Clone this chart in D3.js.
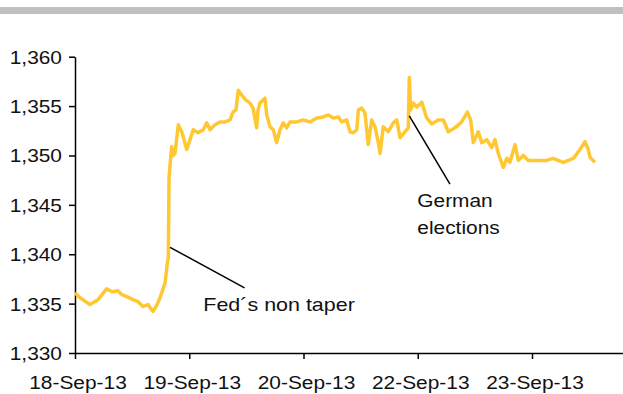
<!DOCTYPE html>
<html>
<head>
<meta charset="utf-8">
<script src="https://cdn.jsdelivr.net/npm/d3@7"></script>
<style>
  html, body { margin: 0; padding: 0; background: #fff; }
  svg { display: block; font-family: "Liberation Sans", Arial, sans-serif; }
</style>
</head>
<body>
<svg width="623" height="394"></svg>
<script>
// x in trading-day units (0 = 18-Sep-13), values EUR/USD
const dayPos = [
  0, 0.044, 0.131, 0.201, 0.277, 0.324, 0.376, 0.411, 0.453, 0.508, 0.551, 0.595, 0.639, 0.683,
  0.718, 0.744, 0.788, 0.808, 0.817, 0.823, 0.846, 0.858, 0.875, 0.904, 0.934, 0.954, 0.978,
  1.007, 1.035, 1.077, 1.123, 1.153, 1.182, 1.225, 1.269, 1.313, 1.357, 1.383, 1.409, 1.429,
  1.473, 1.497, 1.532, 1.558, 1.590, 1.602, 1.619, 1.663, 1.678, 1.707, 1.736, 1.765, 1.794,
  1.823, 1.853, 1.882, 1.940, 1.998, 2.057, 2.116, 2.173, 2.217, 2.261, 2.305, 2.334, 2.378,
  2.407, 2.436, 2.466, 2.480, 2.509, 2.538, 2.567, 2.597, 2.626, 2.655, 2.670, 2.698, 2.742,
  2.786, 2.816, 2.845, 2.888, 2.917, 2.926, 2.938, 2.961, 2.991, 3.035, 3.078, 3.122, 3.180,
  3.224, 3.267, 3.326, 3.385, 3.434, 3.463, 3.486, 3.530, 3.560, 3.604, 3.647, 3.676, 3.705,
  3.749, 3.779, 3.807, 3.851, 3.880, 3.924, 3.968, 4.041, 4.129, 4.184, 4.274, 4.362, 4.420,
  4.464, 4.493, 4.508, 4.551
];
const rate = [
  1.3361, 1.3356, 1.3349, 1.3354, 1.3365, 1.3362, 1.3363, 1.3359, 1.3357, 1.3354, 1.3352, 1.3347, 1.3349, 1.3342,
  1.3349, 1.3356, 1.3371, 1.3391, 1.3397, 1.3478, 1.3509, 1.3500, 1.3502, 1.3531, 1.3524, 1.3516, 1.3506,
  1.3516, 1.3526, 1.3523, 1.3526, 1.3533, 1.3526, 1.3531, 1.3534, 1.3534, 1.3536, 1.3544, 1.3546, 1.3566,
  1.3559, 1.3556, 1.3553, 1.3548, 1.3528, 1.3546, 1.3553, 1.3558, 1.3541, 1.3529, 1.3526, 1.3513, 1.3526,
  1.3533, 1.3528, 1.3534, 1.3534, 1.3536, 1.3534, 1.3538, 1.3539, 1.3541, 1.3538, 1.3539, 1.3534, 1.3536,
  1.3524, 1.3523, 1.3526, 1.3546, 1.3548, 1.3543, 1.3511, 1.3536, 1.3529, 1.3513, 1.3502, 1.3529, 1.3524,
  1.3533, 1.3536, 1.3518, 1.3524, 1.3528, 1.3579, 1.3546, 1.3553, 1.3549, 1.3554, 1.3538, 1.3532, 1.3536,
  1.3536, 1.3524, 1.3528, 1.3534, 1.3544, 1.3536, 1.3513, 1.3524, 1.3513, 1.3516, 1.3508, 1.3516, 1.3502,
  1.3488, 1.3497, 1.3493, 1.3511, 1.3495, 1.3500, 1.3495, 1.3495, 1.3495, 1.3497, 1.3493, 1.3497, 1.3506,
  1.3514, 1.3506, 1.3498, 1.3493
];

const dayLabels = ["18-Sep-13", "19-Sep-13", "20-Sep-13", "22-Sep-13", "23-Sep-13"];
const yTicks = [1.330, 1.335, 1.340, 1.345, 1.350, 1.355, 1.360];

// annotations: [pointDay, pointRate, endDay, endRate], text lines
const fedNote = { line: [0.832, 1.3407, 1.484, 1.3366], text: ["Fed´s non taper"], at: [1.123, 1.3343], size: 19 };
const germanNote = { line: [2.926, 1.3540, 3.282, 1.3471], text: ["German", "elections"], at: [2.996, 1.3448], size: 18.5 };

const STRETCH = 1.13; // text in the original is slightly wide
const FONT = 18.5;

const svg = d3.select("svg");

const margin = { left: 75, right: 0, top: 56.7, bottom: 41 };
const width = 623;
const height = 394;

const x = d3.scaleLinear().domain([0, 4.8]).range([margin.left, 623.4]);
const y = d3.scaleLinear().domain([1.330, 1.360]).range([height - margin.bottom, margin.top]);

// grey band at the top
svg.append("rect")
  .attr("x", 0).attr("y", 7)
  .attr("width", width).attr("height", 7)
  .attr("fill", "#c0c0c0");

// y axis
const yAxis = svg.append("g")
  .attr("transform", `translate(${margin.left},0)`)
  .call(d3.axisLeft(y).tickValues(yTicks).tickSize(6).tickSizeOuter(0)
    .tickFormat((d) => d3.format(".3f")(d).replace(".", ",")));

// x axis
const xAxis = svg.append("g")
  .attr("transform", `translate(0,${y(1.330)})`)
  .call(d3.axisBottom(x).tickValues(d3.range(dayLabels.length)).tickSize(6).tickSizeOuter(0)
    .tickFormat((d) => dayLabels[d]));

[yAxis, xAxis].forEach((g) => {
  g.select(".domain").attr("stroke", "#000").attr("stroke-width", 1.5);
  g.selectAll(".tick line").attr("stroke", "#000").attr("stroke-width", 1.5);
  g.selectAll(".tick text")
    .attr("font-size", FONT)
    .attr("font-family", "Liberation Sans, Arial, sans-serif")
    .attr("fill", "#111");
});

yAxis.selectAll(".tick text")
  .attr("x", 0)
  .attr("dy", "0.35em")
  .attr("transform", `translate(-13,0) scale(${STRETCH},1)`);

xAxis.selectAll(".tick text")
  .attr("y", 0)
  .attr("dy", null)
  .attr("transform", `translate(2.5,35.7) scale(${STRETCH},1)`);

// the series
const points = dayPos.map((d, i) => [d, rate[i]]);
svg.append("path")
  .datum(points)
  .attr("fill", "none")
  .attr("stroke", "#ffc832")
  .attr("stroke-width", 3.5)
  .attr("stroke-linejoin", "round")
  .attr("d", d3.line().x((d) => x(d[0])).y((d) => y(d[1])));

// annotations
[fedNote, germanNote].forEach((note) => {
  const [d1, r1, d2, r2] = note.line;
  svg.append("line")
    .attr("x1", x(d1)).attr("y1", y(r1))
    .attr("x2", x(d2)).attr("y2", y(r2))
    .attr("stroke", "#000")
    .attr("stroke-width", 1.5);

  note.text.forEach((t, i) => {
    svg.append("text")
      .attr("transform", `translate(${x(note.at[0])},${y(note.at[1]) + i * 27}) scale(${STRETCH},1)`)
      .attr("font-size", note.size)
      .attr("fill", "#111")
      .text(t);
  });
});
</script>
</body>
</html>
